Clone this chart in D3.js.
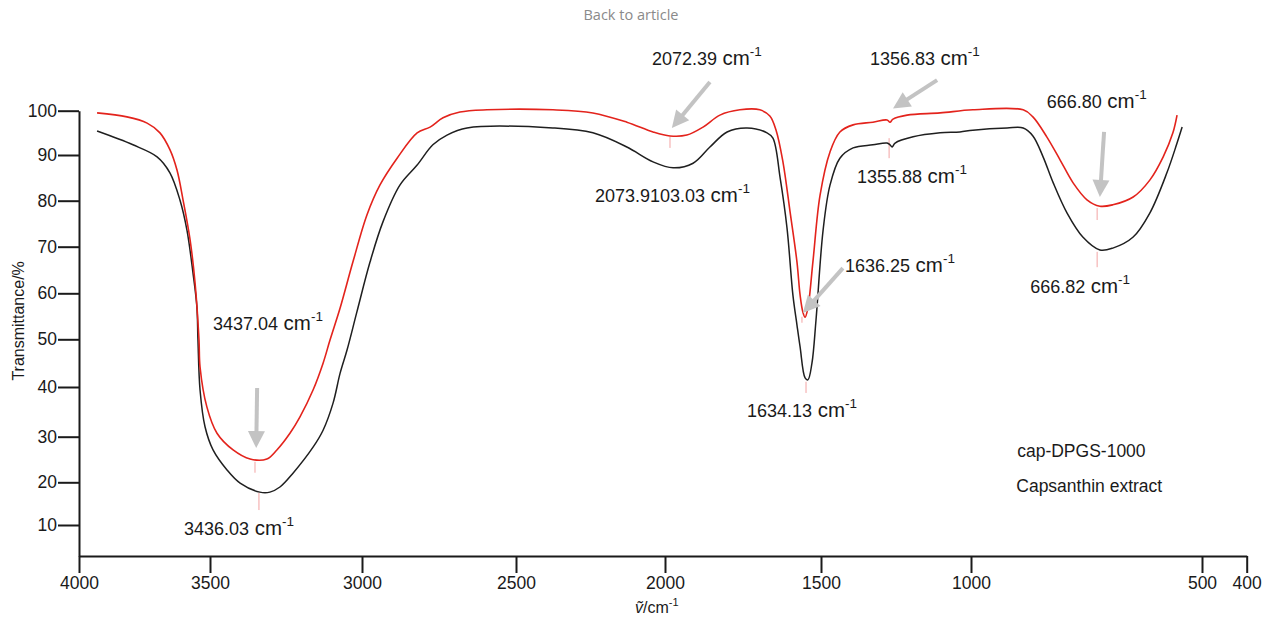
<!DOCTYPE html>
<html>
<head>
<meta charset="utf-8">
<script src="https://cdn.jsdelivr.net/npm/d3@7"></script>
<style>
  body { margin: 0; background: #fff; }
  svg text { font-family: "Liberation Sans", Arial, sans-serif; fill: #1a1a1a; }
</style>
</head>
<body>
<svg id="chart"></svg>
<script>
const width = 1270;
const height = 625;

// axis ticks
const wavenumberTicks = [4000, 3500, 3000, 2500, 2000, 1500, 1000, 500, 400];
const transmittanceTicks = [100, 90, 80, 70, 60, 50, 40, 30, 20, 10];

// cap-DPGS-1000 spectrum (red)
const capWavenumber = [3931, 3817, 3740, 3691, 3653, 3626, 3603, 3576, 3557, 3542, 3538, 3512, 3477, 3424, 3368, 3313, 3280, 3237, 3204, 3161, 3128, 3105, 3072, 3030, 2984, 2942, 2886, 2821, 2779, 2737, 2682, 2594, 2376, 2242, 2128, 2040, 1984, 1930, 1878, 1824, 1760, 1696, 1664, 1644, 1622, 1599, 1577, 1567, 1558, 1551, 1542, 1526, 1503, 1470, 1437, 1393, 1327, 1280, 1270, 1260, 1213, 1103, 996, 887, 866, 836, 807, 779, 749, 721, 693, 649, 613, 584, 563, 554];
const capTransmittance = [99.5, 98.6, 97.2, 95.0, 91.2, 86.7, 80.2, 71.5, 62.2, 49.9, 44.2, 36.0, 30.7, 27.1, 25.1, 25.1, 27.1, 30.7, 34.0, 39.4, 45.0, 49.9, 56.8, 66.7, 76.9, 83.4, 89.3, 95.0, 96.3, 98.4, 99.7, 100.2, 100.2, 99.5, 97.4, 95.2, 94.3, 94.5, 96.3, 99.0, 100.2, 100.2, 98.8, 95.6, 88.5, 77.5, 66.7, 59.6, 55.9, 54.8, 56.8, 66.7, 81.2, 90.7, 95.2, 96.8, 97.4, 97.9, 97.4, 98.1, 99.0, 99.5, 100.2, 100.2, 98.6, 94.1, 88.9, 83.9, 80.2, 78.8, 79.1, 80.8, 84.5, 89.6, 95.0, 99.0];

// Capsanthin extract spectrum (black)
const extractWavenumber = [3931, 3794, 3702, 3653, 3615, 3588, 3565, 3550, 3546, 3538, 3519, 3490, 3444, 3401, 3336, 3303, 3270, 3227, 3161, 3128, 3095, 3072, 3049, 3017, 2974, 2932, 2877, 2821, 2770, 2724, 2659, 2376, 2242, 2128, 2040, 1974, 1910, 1856, 1801, 1737, 1673, 1654, 1631, 1609, 1590, 1577, 1567, 1551, 1542, 1529, 1516, 1493, 1470, 1437, 1393, 1327, 1280, 1270, 1263, 1253, 1193, 1103, 1037, 996, 922, 887, 866, 844, 822, 792, 758, 721, 693, 649, 613, 576, 554, 543];
const extractTransmittance = [95.4, 92.3, 89.6, 86.1, 80.2, 73.6, 64.4, 57.0, 49.9, 39.4, 32.0, 27.1, 22.7, 19.8, 17.7, 17.7, 18.9, 22.0, 27.7, 31.3, 36.8, 42.9, 47.8, 55.9, 66.7, 75.4, 83.4, 87.8, 92.3, 94.5, 96.1, 96.1, 95.0, 91.8, 88.5, 87.2, 88.2, 91.8, 95.2, 96.1, 95.0, 93.8, 85.0, 74.1, 59.6, 53.1, 48.4, 41.9, 41.5, 45.0, 54.2, 73.6, 83.4, 89.3, 91.6, 92.3, 92.7, 92.3, 91.8, 92.7, 94.1, 95.0, 95.2, 95.6, 96.1, 96.1, 94.3, 89.6, 83.9, 77.3, 72.1, 69.3, 69.7, 72.1, 77.3, 86.1, 92.7, 96.3];

// peak labels, placed at (wavenumber, transmittance) of their left baseline
const peakLabels = ["3437.04", "3436.03", "2072.39", "2073.9103.03", "1356.83", "1355.88", "1636.25", "1634.13", "666.80", "666.82"];
const peakLabelWavenumber = [3490, 3599, 2044, 2235, 1337, 1380, 1420, 1737, 836, 872];
const peakLabelTransmittance = [52.0, 7.7, 110.3, 79.7, 110.3, 83.9, 64.6, 34.0, 100.6, 60.1];

// grey arrows pointing at the red peaks
const arrowFromWavenumber = [3345, 1856, 1113, 1427, 712];
const arrowFromTransmittance = [39.8, 106.5, 106.9, 65.4, 95.2];
const arrowToWavenumber = [3348, 1978, 1260, 1558, 721];
const arrowToTransmittance = [27.5, 96.1, 100.5, 55.7, 80.8];

// small pink drop lines under the peak minima
const markerWavenumber = [3352, 3339, 1984, 1273, 1548, 1561, 727, 727];
const markerTop = [24.5, 17.5, 94.1, 93.8, 41.1, 54.9, 78.4, 68.9];
const markerBottom = [22.1, 13.5, 91.6, 89.3, 38.8, 53.6, 75.8, 65.6];

// sample names, placed at (wavenumber, transmittance) of their left baseline
const sampleNames = ["cap-DPGS-1000", "Capsanthin extract"];
const sampleNameWavenumber = [900, 902];
const sampleNameTransmittance = [25.5, 17.7];

// the printed axes are not evenly spaced, so the scales are piecewise
const xStops = [79, 210, 362, 516, 665, 821, 971, 1202, 1246.7];
const yStops = [110.7, 155, 200.7, 246.7, 293.3, 339.3, 387, 436.7, 482.3, 525, 556];

const x = d3.scaleLinear().domain(wavenumberTicks).range(xStops);
const y = d3.scaleLinear().domain(transmittanceTicks.concat([2.7])).range(yStops);

const svg = d3.select("#chart")
  .attr("width", width)
  .attr("height", height)
  .style("background", "#fff");

// page header
svg.append("text")
  .attr("x", 631)
  .attr("y", 20)
  .attr("text-anchor", "middle")
  .style("font-family", "'Open Sans', sans-serif")
  .style("font-size", "14.5px")
  .style("fill", "#8a8a8a")
  .text("Back to article");

// axes
const xAxis = svg.append("g")
  .attr("transform", `translate(0,${y(2.7)})`)
  .call(d3.axisBottom(x).tickValues(wavenumberTicks).tickSize(17).tickSizeOuter(0).tickPadding(4).tickFormat(d3.format("d")));

const yAxis = svg.append("g")
  .attr("transform", `translate(${x(4000)},0)`)
  .call(d3.axisLeft(y).tickValues(transmittanceTicks).tickSize(21).tickSizeOuter(0).tickPadding(1).tickFormat(d3.format("d")));

[xAxis, yAxis].forEach(g => {
  g.selectAll("path, line").attr("stroke", "#1a1a1a").attr("stroke-width", 2);
  g.selectAll("text").style("font-size", "17.5px").style("font-family", "'Liberation Sans', Arial, sans-serif").attr("fill", "#1a1a1a");
});

// axis titles
svg.append("text")
  .attr("transform", `translate(24,${y(54)}) rotate(-90)`)
  .attr("text-anchor", "middle")
  .style("font-size", "16px")
  .text("Transmittance/%");

const xTitle = svg.append("text")
  .attr("x", x(2000) - 30)
  .attr("y", 613)
  .style("font-size", "16px");
xTitle.append("tspan").style("font-style", "italic").text("ṽ");
xTitle.append("tspan").text("/cm");
xTitle.append("tspan").attr("dy", -7).style("font-size", "11px").text("-1");

// pink drop lines
svg.append("g")
  .selectAll("line")
  .data(markerWavenumber)
  .enter()
  .append("line")
  .attr("x1", d => x(d))
  .attr("x2", d => x(d))
  .attr("y1", (d, i) => y(markerTop[i]))
  .attr("y2", (d, i) => y(markerBottom[i]))
  .attr("stroke", "#f3a3a3")
  .attr("stroke-width", 1);

// spectra
const line = d3.line()
  .x(d => x(d[0]))
  .y(d => y(d[1]))
  .curve(d3.curveCatmullRom.alpha(0.5));

svg.append("path")
  .datum(extractWavenumber.map((w, i) => [w, extractTransmittance[i]]))
  .attr("d", line)
  .attr("fill", "none")
  .attr("stroke", "#1f1f1f")
  .attr("stroke-width", 1.5);

svg.append("path")
  .datum(capWavenumber.map((w, i) => [w, capTransmittance[i]]))
  .attr("d", line)
  .attr("fill", "none")
  .attr("stroke", "#e3231c")
  .attr("stroke-width", 1.6);

// arrows: shaft plus a triangular head
const arrows = svg.append("g").attr("fill", "#c3c3c3").attr("stroke", "#c3c3c3");
arrowFromWavenumber.forEach((w, i) => {
  const x0 = x(w), y0 = y(arrowFromTransmittance[i]);
  const x1 = x(arrowToWavenumber[i]), y1 = y(arrowToTransmittance[i]);
  const len = Math.hypot(x1 - x0, y1 - y0);
  const ux = (x1 - x0) / len, uy = (y1 - y0) / len;
  const headLen = 17, headHalf = 8.5;
  const bx = x1 - ux * headLen, by = y1 - uy * headLen;
  arrows.append("line")
    .attr("x1", x0).attr("y1", y0)
    .attr("x2", bx + ux * 2).attr("y2", by + uy * 2)
    .attr("stroke-width", 4);
  arrows.append("path")
    .attr("stroke", "none")
    .attr("d", `M${x1},${y1}L${bx - uy * headHalf},${by + ux * headHalf}L${bx + uy * headHalf},${by - ux * headHalf}Z`);
});

// peak labels: number, then "cm" with a superscript -1
peakLabels.forEach((label, i) => {
  const t = svg.append("text")
    .attr("x", x(peakLabelWavenumber[i]))
    .attr("y", y(peakLabelTransmittance[i]));
  t.append("tspan").style("font-size", "18px").text(label);
  t.append("tspan").attr("dx", 5.5).style("font-size", "20.5px").text("cm");
  t.append("tspan").attr("dy", -9).style("font-size", "13.5px").text("-1");
});

// sample names
sampleNames.forEach((name, i) => {
  svg.append("text")
    .attr("x", x(sampleNameWavenumber[i]))
    .attr("y", y(sampleNameTransmittance[i]))
    .style("font-size", "17.5px")
    .text(name);
});
</script>
</body>
</html>
